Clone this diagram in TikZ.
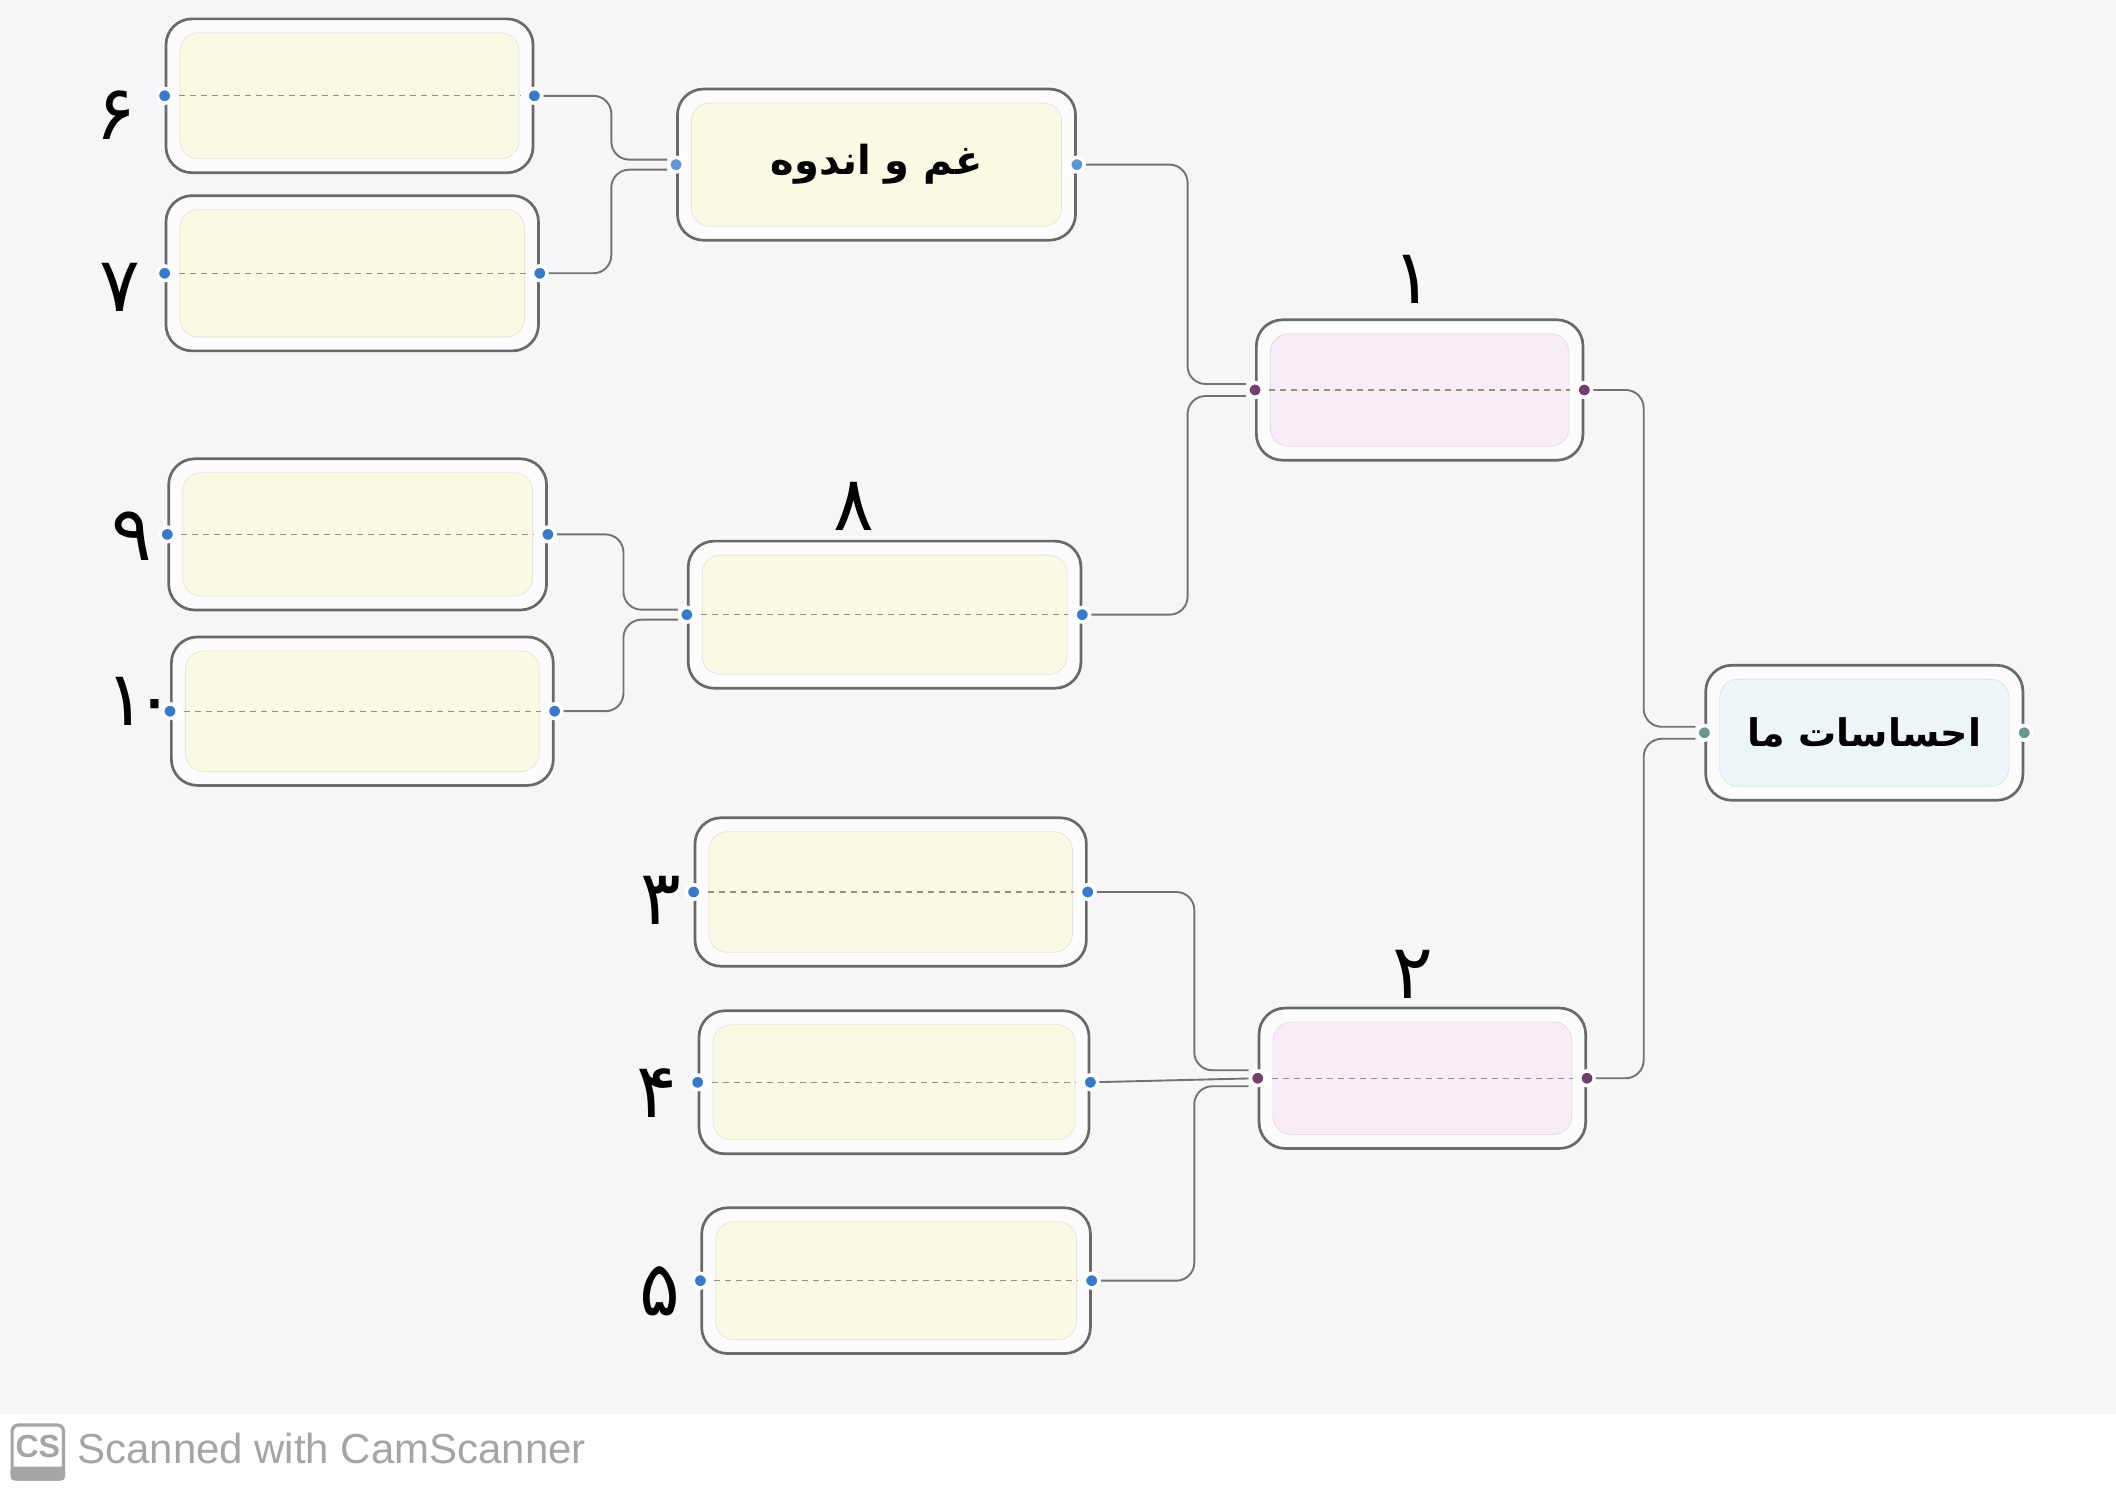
\documentclass[tikz,border=0pt]{standalone}
\usepackage{fontspec}
\TeXXeTstate=1
\newfontfamily\arabicfont[Script=Arabic]{DejaVu Sans}
\newfontfamily\digitfont{DejaVu Sans}
\newfontfamily\wmfont{Liberation Sans}
\definecolor{bgcol}{RGB}{246,246,249}
\definecolor{linegray}{RGB}{105,105,108}
\definecolor{conngray}{RGB}{115,115,118}
\definecolor{yel}{RGB}{250,250,228}
\definecolor{pnk}{RGB}{248,236,246}
\definecolor{cyn}{RGB}{236,246,249}
\definecolor{dotblue}{RGB}{52,122,206}
\definecolor{dotpurp}{RGB}{118,60,110}
\definecolor{dotteal}{RGB}{104,152,142}
\definecolor{dashcol}{RGB}{140,150,125}
\definecolor{wmgray}{RGB}{165,165,165}
\newcommand\bx[7]{%
  \node[outerbox, minimum width={(#4-#2)*0.675pt}, minimum height={(#5-#3)*0.675pt}] (#1) at ({(#2+#4)/2},{(#3+#5)/2}) {};
  \node[innerbox, fill=#6, draw=#6!85!black!60, minimum width={(#4-#2)*0.675pt-14pt}, minimum height={(#5-#3)*0.675pt-14pt}] (#1in) at (#1.center) {};
  \node[dotnode, fill=#7] (#1l) at (#1.west) {};
  \node[dotnode, fill=#7] (#1r) at (#1.east) {};
}
\begin{document}
\begin{tikzpicture}[x=0.675pt,y=-0.675pt,
  outerbox/.style={draw=linegray, line width=1.35pt, rounded corners=13pt, fill=white!70!bgcol, inner sep=0pt},
  innerbox/.style={rounded corners=9pt, inner sep=0pt, line width=0.4pt},
  dotnode/.style={circle, inner sep=0pt, minimum size=7.3pt, draw=white, line width=1.8pt},
  conn/.style={draw=conngray, line width=0.95pt, rounded corners=9pt},
  dashl/.style={draw=dashcol, line width=0.6pt, dash pattern=on 3pt off 2.5pt},
  numlbl/.style={font=\digitfont\fontsize{38}{40}\selectfont, inner sep=0pt},
  titletext/.style={font=\arabicfont\bfseries\fontsize{20}{24}\selectfont, inner sep=0pt}]
\fill[bgcol] (0,0) rectangle (1568,1106);
\useasboundingbox (0,0) rectangle (1568,1106);
\fill[white] (0,1048) rectangle (1568,1106);

% boxes
\bx{bsix}{123}{14}{395}{128}{yel}{dotblue}
\bx{bseven}{123}{145}{399}{260}{yel}{dotblue}
\bx{grief}{502}{66}{797}{178}{yel}{dotblue!80!white}
\bx{bone}{931}{237}{1173}{341}{pnk}{dotpurp}
\bx{bnine}{125}{340}{405}{452}{yel}{dotblue}
\bx{bten}{127}{472}{410}{582}{yel}{dotblue}
\bx{beight}{510}{401}{801}{510}{yel}{dotblue}
\bx{root}{1264}{493}{1499}{593}{cyn}{dotteal}
\bx{bthree}{515}{606}{805}{716}{yel}{dotblue}
\bx{bfour}{518}{749}{807}{855}{yel}{dotblue}
\bx{bfive}{520}{895}{808}{1003}{yel}{dotblue}
\bx{btwo}{933}{747}{1175}{851}{pnk}{dotpurp}

% dashed guide lines
\foreach \b in {bsix,bseven,bnine,bten,beight,bone,bthree,bfour,bfive,btwo}
  \draw[dashl] ([xshift=7pt]\b l.center) -- ([xshift=-7pt]\b r.center);

% texts
\node[titletext] (tgrief) at (grief.center) {\beginR غم و اندوه\endR};
\node[titletext, font=\arabicfont\bfseries\fontsize{19}{23}\selectfont] (troot) at (root.center) {\beginR احساسات ما\endR};

% number labels
\node[numlbl] (nsix) at (86,85) {۶};
\node[numlbl] (nseven) at (89,213) {۷};
\node[numlbl] (nnine) at (98,397) {۹};
\node[numlbl] (nten) at (104,520) {۱\kern-6pt۰};
\node[numlbl] (neight) at (633,375) {۸};
\node[numlbl] (none) at (1047,207) {۱};
\node[numlbl] (nthree) at (490,667) {۳};
\node[numlbl] (nfour) at (487,810) {۴};
\node[numlbl] (nfive) at (489,957) {۵};
\node[numlbl] (ntwo) at (1047,722) {۲};

% vertical positions of connector elbows
\coordinate (ma) at (453,0);
\coordinate (mb) at (880,0);
\coordinate (mc) at (462,0);
\coordinate (md) at (1218,0);
\coordinate (me) at (885,0);

% connectors
\draw[conn] (bsixr) -- (bsixr -| ma) -- ([yshift=2.5pt]griefl.west -| ma) -- ([yshift=2.5pt]griefl.west);
\draw[conn] (bsevenr) -- (bsevenr -| ma) -- ([yshift=-2.5pt]griefl.west -| ma) -- ([yshift=-2.5pt]griefl.west);
\draw[conn] (griefr) -- (griefr -| mb) -- ([yshift=3pt]bonel.west -| mb) -- ([yshift=3pt]bonel.west);
\draw[conn] (beightr) -- (beightr -| mb) -- ([yshift=-3pt]bonel.west -| mb) -- ([yshift=-3pt]bonel.west);
\draw[conn] (bniner) -- (bniner -| mc) -- ([yshift=2.5pt]beightl.west -| mc) -- ([yshift=2.5pt]beightl.west);
\draw[conn] (btenr) -- (btenr -| mc) -- ([yshift=-2.5pt]beightl.west -| mc) -- ([yshift=-2.5pt]beightl.west);
\draw[conn] (boner) -- (boner -| md) -- ([yshift=3pt]rootl.west -| md) -- ([yshift=3pt]rootl.west);
\draw[conn] (btwor) -- (btwor -| md) -- ([yshift=-3pt]rootl.west -| md) -- ([yshift=-3pt]rootl.west);
\draw[conn] (bthreer) -- (bthreer -| me) -- ([yshift=4pt]btwol.west -| me) -- ([yshift=4pt]btwol.west);
\draw[conn] (bfourr) -- (btwol);
\draw[conn] (bfiver) -- (bfiver -| me) -- ([yshift=-4pt]btwol.west -| me) -- ([yshift=-4pt]btwol.west);

% watermark
\node[draw=wmgray, line width=1.6pt, rounded corners=3pt, minimum width={38*0.675pt}, minimum height={40*0.675pt}, inner sep=0pt] (cslogo) at (28,1076) {};
\fill[wmgray, rounded corners=2pt] ([yshift=7pt]cslogo.south west) rectangle (cslogo.south east);
\node[text=wmgray, font=\wmfont\bfseries\fontsize{16}{17}\selectfont, inner sep=0pt] (cstext) at ([yshift=3pt]cslogo.center) {CS};
\node[text=wmgray, font=\wmfont\fontsize{21}{24}\selectfont, inner sep=0pt, anchor=west] (wmtext) at (57,1073) {Scanned with CamScanner};
\end{tikzpicture}
\end{document}
